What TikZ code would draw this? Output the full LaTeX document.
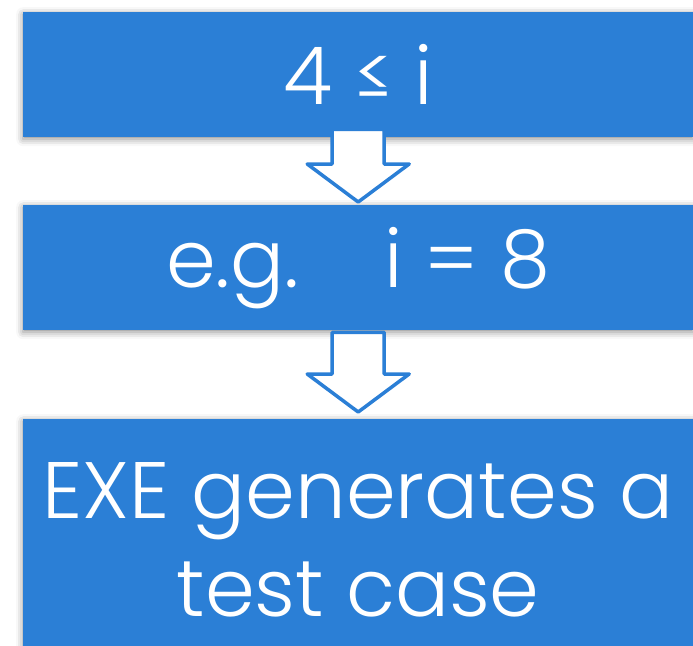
\documentclass[tikz,border=0pt]{standalone}
\usepackage{fontspec}
\setmainfont{Poppins}[UprightFont=* Light]
\usetikzlibrary{calc,shadows.blur}
\definecolor{boxblue}{RGB}{43,127,214}

% block arrow from the shaft top #1 down to the tip #2
\newcommand\flowarrow[2]{%
  \draw[flow] let \p1=(#1), \p2=(#2) in
    (\x2-26pt,\y1) -- (\x2+26pt,\y1) -- (\x2+26pt,\y2+38pt) -- (\x2+51pt,\y2+38pt)
    -- (\x2,\y2) -- (\x2-51pt,\y2+38pt) -- (\x2-26pt,\y2+38pt) -- cycle;}

\begin{document}
\begin{tikzpicture}[x=1pt,y=-1pt,
       box/.style={fill=boxblue,text=white,inner sep=0pt,align=center,
         font=\fontsize{80}{98}\selectfont,minimum width=670pt,anchor=north west,
         blur shadow={shadow xshift=0pt,shadow yshift=-2pt,shadow blur radius=7pt,shadow opacity=45}},
       flow/.style={draw=boxblue,fill=white,line width=3.5pt,line join=round}]
    \useasboundingbox (0,0) rectangle (693,645);
    \clip (0,0) rectangle (693,645);
    \node[box,minimum height=125pt] (cond) at (23,12) {4 ≤ i};
    \node[box,minimum height=125pt] (example) at (23,205) {e.g.\hspace{0.7em} i = 8};
    \node[box,minimum height=241pt] (result) at (23,419) {EXE generates a\\test case};
    \flowarrow{$(cond.south)+(0,-8)$}{$(example.north)+(0,-3)$}
    \flowarrow{$(example.south)+(0,2)$}{$(result.north)+(0,-7)$}
\end{tikzpicture}
\end{document}
